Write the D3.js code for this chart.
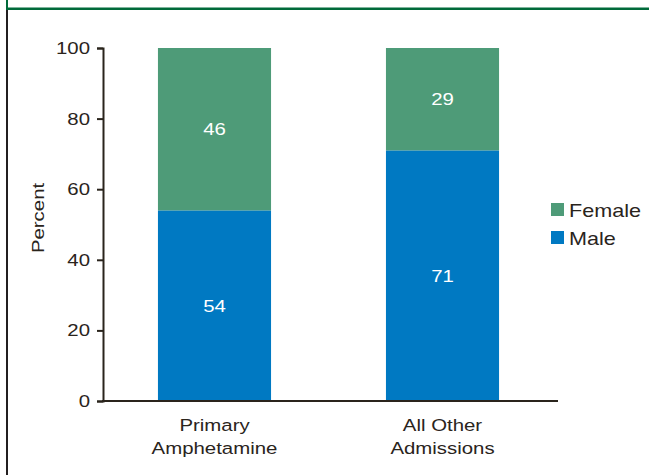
<!DOCTYPE html>
<html>
<head>
<meta charset="utf-8">
<script src="https://cdn.jsdelivr.net/npm/d3@7"></script>
<style>
body { margin: 0; background: #fff; }
svg { display: block; font-family: "Liberation Sans", Arial, sans-serif; }
</style>
</head>
<body>
<svg id="chart" width="649" height="475"></svg>
<script>
var categories = [["Primary", "Amphetamine"], ["All Other", "Admissions"]],
	male = [54, 71],
	female = [46, 29],
	series = ["Female", "Male"],
	yTicks = [0, 20, 40, 60, 80, 100];

var greencolor = "#4e9b78",
	bluecolor = "#0079c2",
	inkcolor = "#2a241c",
	framecolor = "#006a3a",
	wide = 1.2;

var svg = d3.select("#chart");

// places text at x,y, a bit wider like the original font
function place(x, y, rot) {
	return "translate(" + x + "," + y + ")" + (rot ? " rotate(" + rot + ")" : "") + " scale(" + wide + ",1)";
}

// frame bits
svg.append("rect").attr("x", 6).attr("y", 0).attr("width", 2).attr("height", 9).attr("fill", framecolor);
svg.append("rect").attr("x", 6).attr("y", 9).attr("width", 2).attr("height", 466).attr("fill", "#231f20");
svg.append("rect").attr("x", 6).attr("y", 7.5).attr("width", 643).attr("height", 2.5).attr("fill", framecolor);

var x = d3.scaleBand()
	.domain(d3.range(categories.length))
	.range([103, 554])
	.paddingInner(0.504)
	.paddingOuter(0.241);
var y = d3.scaleLinear()
	.domain([0, 100])
	.range([401, 48]);

var data = categories.map(function(c, i) {
	return { i: i, male: male[i], female: female[i] };
});

// bars
var bars = svg.append("g").selectAll("g").data(data).enter().append("g");
bars.append("rect")
	.attr("x", function(d) { return x(d.i); })
	.attr("width", x.bandwidth())
	.attr("y", function(d) { return y(d.male); })
	.attr("height", function(d) { return y(0) - y(d.male); })
	.attr("fill", bluecolor);
bars.append("rect")
	.attr("x", function(d) { return x(d.i); })
	.attr("width", x.bandwidth())
	.attr("y", function(d) { return y(d.male + d.female); })
	.attr("height", function(d) { return y(d.male) - y(d.male + d.female); })
	.attr("fill", greencolor);
bars.append("text")
	.attr("transform", function(d) { return place(x(d.i) + x.bandwidth() / 2, y(d.male / 2)); })
	.attr("dy", "0.35em")
	.attr("text-anchor", "middle")
	.attr("fill", "#fff")
	.attr("font-size", 17)
	.text(function(d) { return d.male; });
bars.append("text")
	.attr("transform", function(d) { return place(x(d.i) + x.bandwidth() / 2, y(d.male + d.female / 2)); })
	.attr("dy", "0.35em")
	.attr("text-anchor", "middle")
	.attr("fill", "#fff")
	.attr("font-size", 17)
	.text(function(d) { return d.female; });

// y axis
var left = svg.append("g")
	.attr("transform", "translate(103,0)")
	.call(d3.axisLeft(y).tickValues(yTicks).tickSize(6).tickSizeOuter(6).tickPadding(8));
left.selectAll("path").style("stroke", inkcolor).style("stroke-width", 2);
left.selectAll("line").style("stroke", inkcolor).style("stroke-width", 2);
left.selectAll("text")
	.attr("x", 0)
	.attr("transform", place(-13, 0))
	.style("fill", inkcolor)
	.style("font-size", "17px")
	.style("font-family", "Liberation Sans, Arial, sans-serif");

// x axis line
svg.append("line")
	.attr("x1", 102).attr("x2", 558)
	.attr("y1", y(0)).attr("y2", y(0))
	.attr("stroke", inkcolor)
	.attr("stroke-width", 2);

// category labels
categories.forEach(function(c, i) {
	c.forEach(function(line, j) {
		svg.append("text")
			.attr("transform", place(x(i) + x.bandwidth() / 2, 431 + j * 23))
			.attr("text-anchor", "middle")
			.attr("fill", inkcolor)
			.attr("font-size", 17)
			.text(line);
	});
});

// y title
svg.append("text")
	.attr("transform", place(44, 218, -90))
	.attr("text-anchor", "middle")
	.attr("fill", inkcolor)
	.attr("font-size", 17)
	.text("Percent");

// legend
var legend = svg.append("g").selectAll("g").data(series).enter().append("g")
	.attr("transform", function(d, i) { return "translate(551," + (203 + i * 28) + ")"; });
legend.append("rect")
	.attr("width", 13).attr("height", 13)
	.attr("fill", function(d) { return d == "Female" ? greencolor : bluecolor; });
legend.append("text")
	.attr("transform", place(18, 14))
	.attr("fill", inkcolor)
	.attr("font-size", 18)
	.text(function(d) { return d; });
</script>
</body>
</html>
